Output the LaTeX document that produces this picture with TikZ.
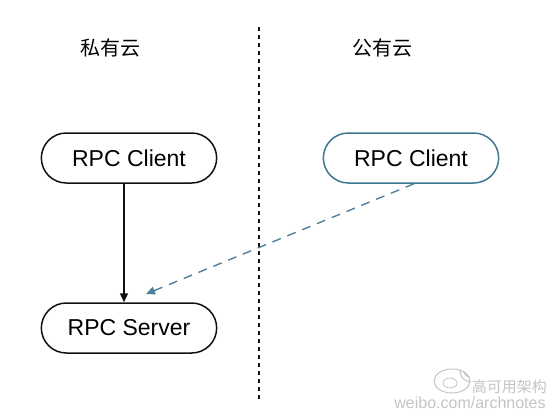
\documentclass[tikz,border=0pt]{standalone}
\usepackage{fontspec}
\setmainfont{Liberation Sans}
\newfontfamily\cjk{Noto Sans CJK SC}
\usetikzlibrary{arrows.meta,positioning,shapes.misc}
\definecolor{ink}{HTML}{111111}
\definecolor{publine}{HTML}{3E7893}
\definecolor{dashblue}{HTML}{4F8199}
\definecolor{wmark}{HTML}{C4C4C4}
\tikzset{
  pill/.style     ={rounded rectangle,draw=ink,line width=1.5pt,fill=white,
                    minimum width=182pt,minimum height=50pt,
                    font=\fontsize{23}{27}\selectfont},
  pubpill/.style  ={pill,draw=publine},
  cloud/.style    ={font=\cjk\fontsize{20}{24}\selectfont},
  divider/.style  ={line width=1.6pt,dash pattern=on 4pt off 4pt,draw=ink},
  flow/.style     ={-{Triangle[length=9pt,width=8pt]},line width=1.5pt,draw=ink},
  crossflow/.style={-{Triangle[length=9pt,width=8pt]},line width=1.4pt,
                    draw=dashblue,dash pattern=on 9pt off 7pt},
  wm/.style       ={text=wmark,inner sep=0pt}
}
\begin{document}
\begin{tikzpicture}[x=1pt,y=-1pt]
  \useasboundingbox (0,0) rectangle (554,415);
  \node[cloud] (priv) at (110,48) {私有云};
  \node[cloud] (pub) at (382,48) {公有云};
  \node[pill] (client) at (129,158) {RPC Client};
  \node[pill] (server) at (129,328) {RPC Server};
  \node[pubpill] (pubclient) at (411,158) {RPC Client};
  \coordinate (divtop) at (259,27);
  \coordinate (divbot) at (259,400);
  \coordinate (hit) at (146,294);
  \draw[divider] (divtop) -- (divbot);
  \draw[flow] ([xshift=-5pt]client.south) -- ([xshift=-5pt]server.north);
  \draw[crossflow] ([xshift=3pt]pubclient.south) -- (hit);
  % watermark
  \draw[wmark,line width=1pt] (452,381) ellipse [x radius=18,y radius=12];
  \draw[wmark,line width=0.8pt] (450,383) ellipse [x radius=7,y radius=5];
  \draw[wmark,line width=1pt] (464,371) arc[start angle=180,end angle=90,radius=6];
  \draw[wmark,line width=1pt] (460,371) arc[start angle=180,end angle=90,radius=11];
  \node[wm,font=\cjk\fontsize{15}{17}\selectfont,anchor=east] (wname) at (547,387) {高可用架构};
  \node[wm,font=\fontsize{16}{18}\selectfont] (wurl) at (470,403) {weibo.com/archnotes};
\end{tikzpicture}
\end{document}
